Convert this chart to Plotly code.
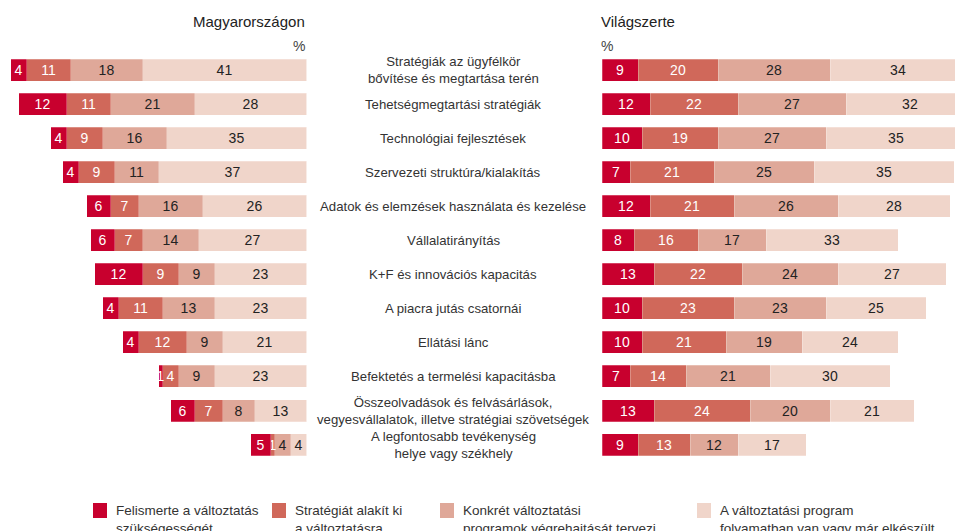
import plotly.graph_objects as go

categories = [
    "Stratégiák az ügyfélkör<br>bővítése és megtartása terén",
    "Tehetségmegtartási stratégiák",
    "Technológiai fejlesztések",
    "Szervezeti struktúra/kialakítás",
    "Adatok és elemzések használata és kezelése",
    "Vállalatirányítás",
    "K+F és innovációs kapacitás",
    "A piacra jutás csatornái",
    "Ellátási lánc",
    "Befektetés a termelési kapacitásba",
    "Összeolvadások és felvásárlások,<br>vegyesvállalatok, illetve stratégiai szövetségek",
    "A legfontosabb tevékenység<br>helye vagy székhely",
]

series_names = [
    "Felismerte a változtatás<br>szükségességét",
    "Stratégiát alakít ki<br>a változtatásra",
    "Konkrét változtatási<br>programok végrehajtását tervezi",
    "A változtatási program<br>folyamatban van vagy már elkészült",
]

# Magyarországon
hu_s1 = [4, 12, 4, 4, 6, 6, 12, 4, 4, 1, 6, 5]
hu_s2 = [11, 11, 9, 9, 7, 7, 9, 11, 12, 4, 7, 1]
hu_s3 = [18, 21, 16, 11, 16, 14, 9, 13, 9, 9, 8, 4]
hu_s4 = [41, 28, 35, 37, 26, 27, 23, 23, 21, 23, 13, 4]

# Világszerte
w_s1 = [9, 12, 10, 7, 12, 8, 13, 10, 10, 7, 13, 9]
w_s2 = [20, 22, 19, 21, 21, 16, 22, 23, 21, 14, 24, 13]
w_s3 = [28, 27, 27, 25, 26, 17, 24, 23, 19, 21, 20, 12]
w_s4 = [34, 32, 35, 35, 28, 33, 27, 25, 24, 30, 21, 17]

colors = ["#c8002e", "#d0685a", "#dfa899", "#f0d5ca"]
text_colors = ["#ffffff", "#ffffff", "#222222", "#222222"]

# page body has an 8px margin; work in reference pixels and shift
OFF = 8
W, H = 963 - OFF, 531 - OFF
NUM_FONT = "Liberation Sans, Arial, sans-serif"
LEG_FONT = "Liberation Sans Narrow, Liberation Sans, Arial, sans-serif"


def px(x):
    return (x - OFF) / W


def py(y):
    return 1 - (y - OFF) / H


fig = go.Figure()

hu = [hu_s1, hu_s2, hu_s3, hu_s4]
wd = [w_s1, w_s2, w_s3, w_s4]

# Left panel: stacked outward from the centre, so the last stage sits next to the labels
for i in (3, 2, 1, 0):
    fig.add_trace(go.Bar(
        y=categories, x=hu[i], orientation="h", xaxis="x", yaxis="y",
        name=series_names[i],
        marker=dict(color=colors[i], line=dict(color="rgba(255,255,255,0.5)", width=0.5)),
        text=hu[i], textposition="inside", insidetextanchor="middle", textangle=0,
        textfont=dict(color=text_colors[i], size=14, family=NUM_FONT),
        showlegend=False, hoverinfo="skip",
    ))
for i in range(4):
    fig.add_trace(go.Bar(
        y=categories, x=wd[i], orientation="h", xaxis="x2", yaxis="y",
        name=series_names[i],
        marker=dict(color=colors[i], line=dict(color="rgba(255,255,255,0.5)", width=0.5)),
        text=wd[i], textposition="inside", insidetextanchor="middle", textangle=0,
        textfont=dict(color=text_colors[i], size=14, family=NUM_FONT),
        showlegend=False, hoverinfo="skip",
    ))

left_end = 306.5
right_start = 602
px_per_unit = 4.0
row_px = 34.05
first_row_y = 70.0 - OFF

y_top = 0 - first_row_y / row_px
y_bot = 0 + (H - first_row_y) / row_px

fig.update_layout(
    width=W, height=H,
    margin=dict(l=0, r=0, t=0, b=0),
    paper_bgcolor="white", plot_bgcolor="white",
    barmode="stack", bargap=1 - 22 / row_px,
    uniformtext=dict(minsize=14, mode="show"),
    xaxis=dict(domain=[0, px(left_end)], range=[(left_end - OFF) / px_per_unit, 0],
               visible=False, fixedrange=True, anchor="y"),
    xaxis2=dict(domain=[px(right_start), 1], range=[0, (963 - right_start) / px_per_unit],
                visible=False, fixedrange=True, anchor="y"),
    yaxis=dict(domain=[0, 1], type="category", categoryorder="array",
               categoryarray=categories, range=[y_bot, y_top], visible=False),
    font=dict(family=NUM_FONT, color="#222222"),
)

ann = []
for c in categories:
    ann.append(dict(x=px(453), xref="paper", y=c, yref="y", text=c, showarrow=False,
                    xanchor="center", yanchor="middle", align="center",
                    font=dict(size=13.2, color="#333333", family=NUM_FONT)))

ann += [
    dict(x=px(left_end), y=py(21), xref="paper", yref="paper", text="Magyarországon",
         showarrow=False, xanchor="right", yanchor="middle", font=dict(size=15, color="#222222")),
    dict(x=px(left_end), y=py(46), xref="paper", yref="paper", text="%",
         showarrow=False, xanchor="right", yanchor="middle", font=dict(size=14, color="#444444")),
    dict(x=px(599), y=py(21), xref="paper", yref="paper", text="Világszerte",
         showarrow=False, xanchor="left", yanchor="middle", font=dict(size=15, color="#222222")),
    dict(x=px(599), y=py(46), xref="paper", yref="paper", text="%",
         showarrow=False, xanchor="left", yanchor="middle", font=dict(size=14, color="#444444")),
]

leg_sq_x = [93, 272, 440, 697]
shapes = []
for i, name in enumerate(series_names):
    x0 = leg_sq_x[i]
    shapes.append(dict(type="rect", xref="paper", yref="paper",
                       x0=px(x0), x1=px(x0 + 14), y0=py(518), y1=py(503),
                       fillcolor=colors[i], line=dict(width=0)))
    ann.append(dict(x=px(x0 + 21), y=py(501), xref="paper", yref="paper", text=name,
                    showarrow=False, xanchor="left", yanchor="top", align="left",
                    font=dict(size=13.5, color="#333333", family=LEG_FONT)))

fig.update_layout(annotations=ann, shapes=shapes)

fig.write_html("out.html")
